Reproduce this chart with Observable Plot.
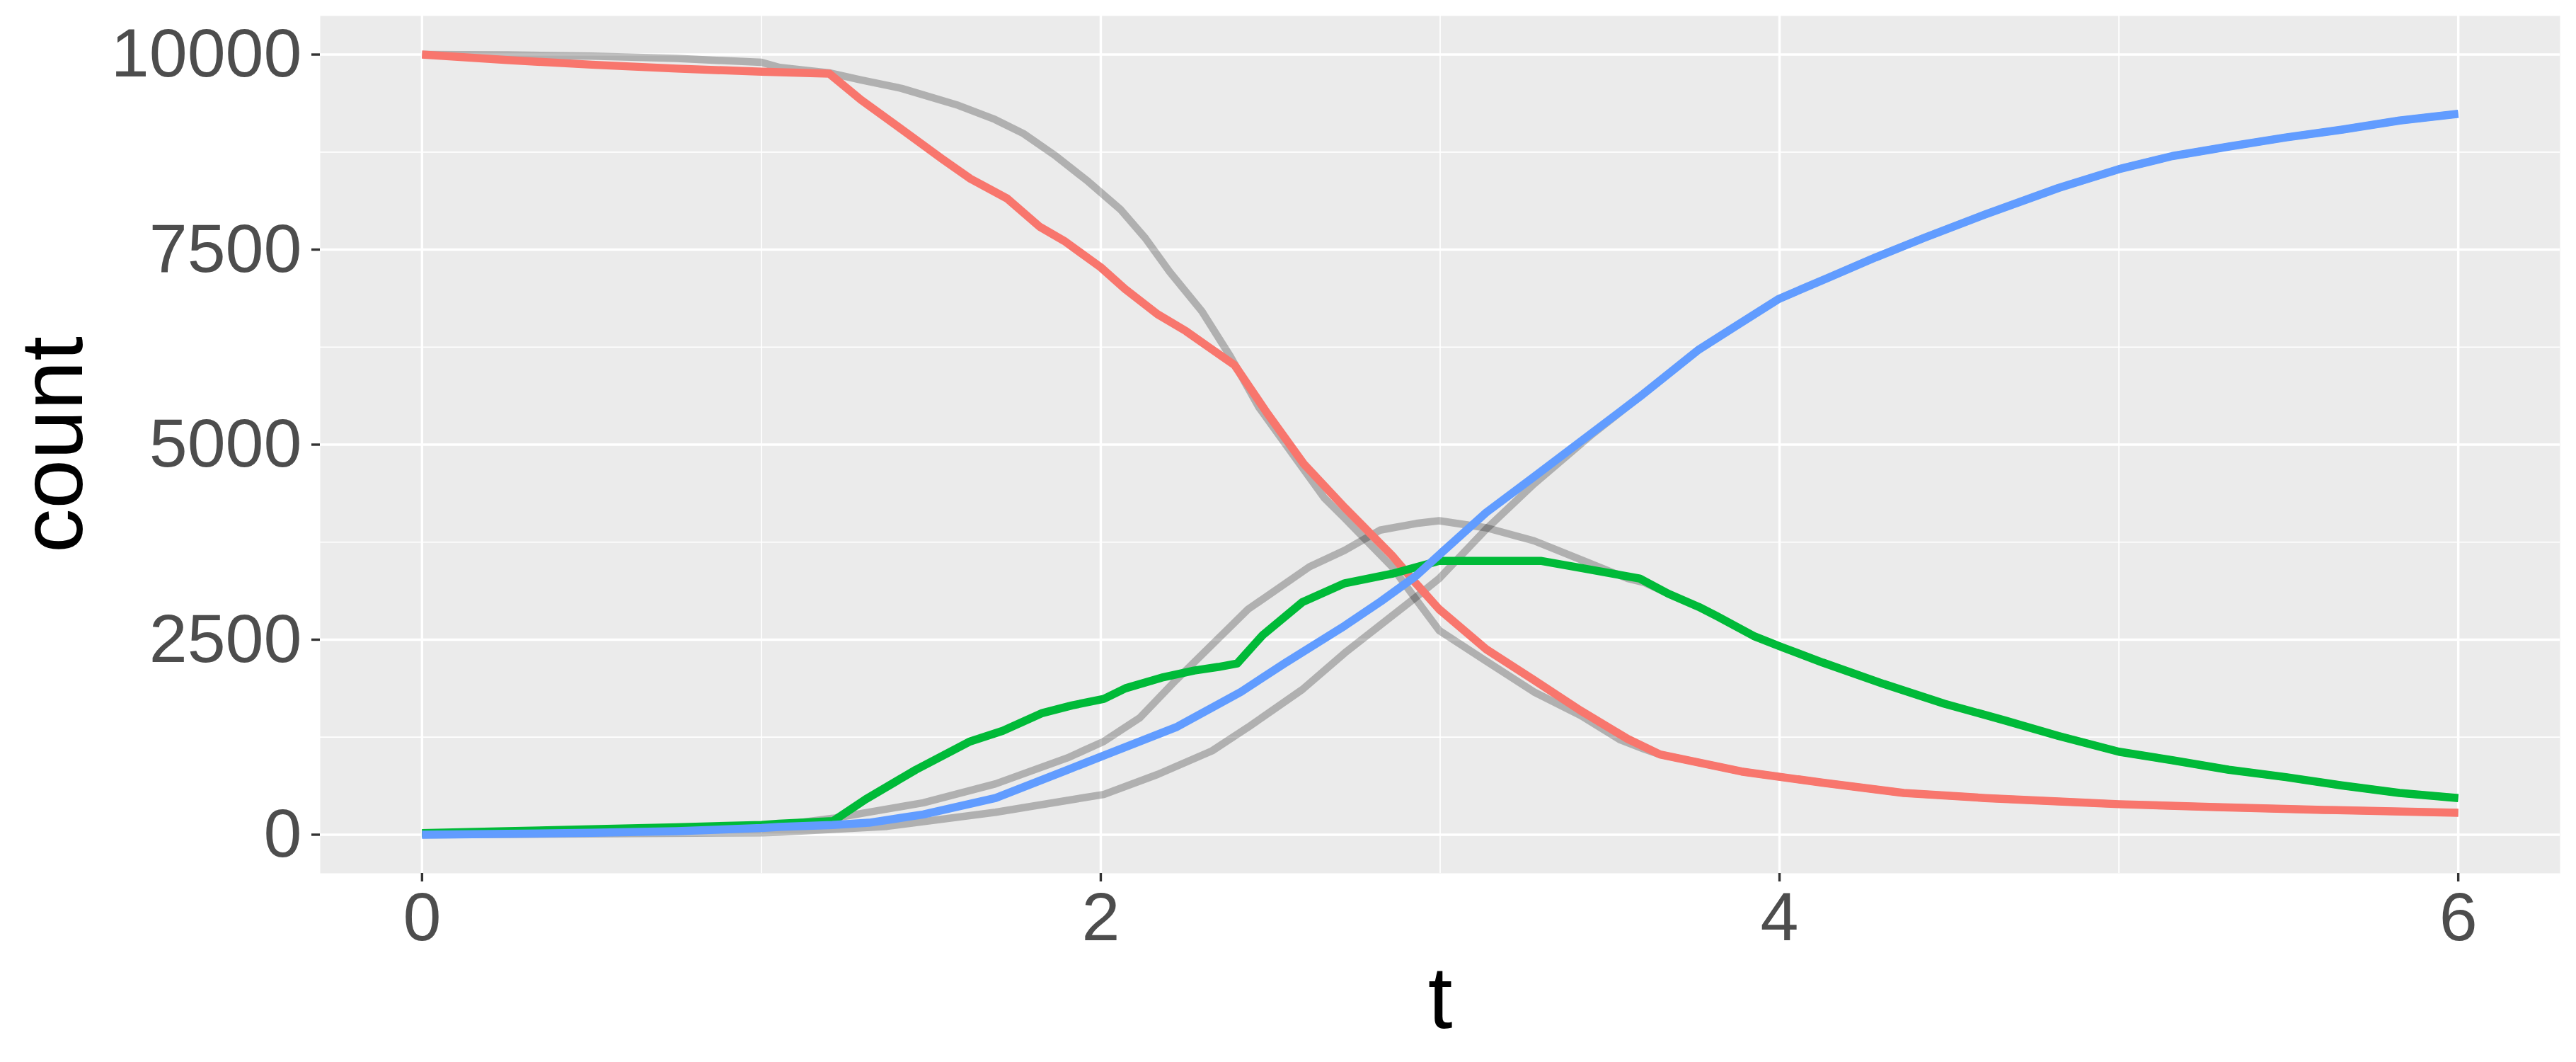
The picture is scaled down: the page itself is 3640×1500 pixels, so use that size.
<!DOCTYPE html>
<html>
<head>
<meta charset="utf-8">
<script src="https://cdn.jsdelivr.net/npm/d3@7"></script>
<script src="https://cdn.jsdelivr.net/npm/@observablehq/plot@0.6"></script>
<style>
  html, body { margin: 0; padding: 0; background: #ffffff; }
  svg { display: block; }
</style>
</head>
<body>
<div id="chart"></div>
<script>
// ---- Data ----
// Stochastic (coloured) series
const obsS_t = [0, 0.25, 0.5, 0.75, 1.0, 1.2, 1.293, 1.401, 1.533, 1.616, 1.724, 1.820, 1.892, 2.0, 2.071, 2.167, 2.251, 2.322, 2.394, 2.490, 2.598, 2.719, 2.858, 2.928, 2.997, 3.136, 3.276, 3.414, 3.553, 3.648, 3.888, 4.127, 4.366, 4.606, 4.822, 5.0, 5.268, 5.604, 6.0];
const obsS   = [10000, 9930, 9870, 9820, 9780, 9755, 9421, 9081, 8661, 8408, 8155, 7793, 7612, 7272, 6997, 6672, 6455, 6238, 6020, 5405, 4754, 4191, 3580, 3224, 2890, 2376, 1983, 1590, 1227, 1028, 810, 666, 535, 470, 427, 391, 355, 318, 282];

const obsI_t = [0, 0.25, 0.5, 0.75, 1.0, 1.051, 1.211, 1.307, 1.455, 1.615, 1.711, 1.828, 1.915, 2.009, 2.073, 2.179, 2.275, 2.346, 2.402, 2.477, 2.594, 2.719, 2.858, 2.997, 3.136, 3.296, 3.414, 3.588, 3.672, 3.762, 3.816, 3.924, 4.008, 4.127, 4.307, 4.486, 4.666, 4.822, 5.0, 5.157, 5.324, 5.492, 5.659, 5.827, 6.0];
const obsI   = [20, 45, 70, 95, 125, 140, 175, 454, 832, 1196, 1332, 1560, 1657, 1741, 1877, 2013, 2104, 2150, 2195, 2558, 2981, 3223, 3344, 3510, 3510, 3510, 3420, 3283, 3090, 2920, 2800, 2547, 2402, 2207, 1932, 1679, 1462, 1266, 1064, 955, 832, 738, 630, 535, 470];

const obsR_t = [0, 0.25, 0.5, 0.75, 1.0, 1.051, 1.209, 1.317, 1.477, 1.690, 1.902, 2.009, 2.222, 2.413, 2.541, 2.719, 2.825, 2.928, 2.997, 3.136, 3.276, 3.450, 3.588, 3.762, 3.866, 3.998, 4.144, 4.283, 4.426, 4.606, 4.822, 5.0, 5.157, 5.324, 5.492, 5.659, 5.827, 6.0];
const obsR   = [0, 10, 25, 45, 85, 100, 125, 153, 259, 470, 832, 1014, 1377, 1831, 2195, 2679, 2990, 3314, 3587, 4131, 4585, 5159, 5613, 6218, 6505, 6868, 7140, 7400, 7650, 7950, 8290, 8531, 8698, 8821, 8937, 9038, 9154, 9240];

// Reference (grey) series
const detS_t = [0, 0.25, 0.5, 0.75, 1.0, 1.054, 1.2, 1.293, 1.413, 1.580, 1.688, 1.772, 1.868, 1.963, 2.059, 2.131, 2.203, 2.298, 2.382, 2.466, 2.574, 2.658, 2.719, 2.858, 2.93, 2.997, 3.136, 3.276, 3.414, 3.529, 3.6, 3.648, 3.888, 4.127, 4.366, 4.606, 4.822, 5.0, 5.268, 5.604, 6.0];
const detS   = [10000, 9995, 9980, 9950, 9900, 9834, 9765, 9675, 9566, 9349, 9168, 8987, 8698, 8372, 8010, 7648, 7214, 6708, 6129, 5478, 4826, 4320, 4055, 3435, 3010, 2618, 2225, 1831, 1529, 1220, 1100, 1028, 810, 666, 535, 470, 427, 391, 355, 318, 282];

const detI_t = [0, 0.5, 1.0, 1.211, 1.477, 1.690, 1.902, 2.009, 2.115, 2.222, 2.328, 2.434, 2.615, 2.719, 2.823, 2.93, 2.997, 3.136, 3.276, 3.414, 3.553, 3.6, 3.672, 3.762, 3.816, 3.924, 4.008, 4.127, 4.307, 4.486, 4.666, 4.822, 5.0, 5.157, 5.324, 5.492, 5.659, 5.827, 6.0];
const detI   = [10, 40, 90, 210, 409, 652, 985, 1196, 1499, 1983, 2437, 2890, 3435, 3646, 3904, 3990, 4025, 3934, 3768, 3526, 3283, 3234, 3090, 2920, 2800, 2547, 2402, 2207, 1932, 1679, 1462, 1266, 1064, 955, 832, 738, 630, 535, 470];

const detR_t = [0, 0.5, 1.0, 1.051, 1.370, 1.690, 1.902, 2.009, 2.168, 2.328, 2.434, 2.594, 2.719, 2.928, 2.997, 3.136, 3.276, 3.450, 3.588, 3.762, 3.866, 3.998, 4.144, 4.283, 4.426, 4.606, 4.822, 5.0, 5.157, 5.324, 5.492, 5.659, 5.827, 6.0];
const detR   = [0, 10, 25, 32, 107, 288, 440, 516, 773, 1075, 1377, 1861, 2330, 3042, 3283, 3919, 4494, 5140, 5613, 6218, 6505, 6868, 7140, 7400, 7650, 7950, 8290, 8531, 8698, 8821, 8937, 9038, 9154, 9240];

// Axis ticks
const xTicks = [0, 2, 4, 6];
const xMinor = [1, 3, 5];
const yTicks = [0, 2500, 5000, 7500, 10000];
const yMinor = [1250, 3750, 6250, 8750];

const seriesColors = {S: "#F8766D", I: "#00BA38", R: "#619CFF"};

// ---- Build tables ----
const toRows = (ts, vs) => ts.map((t, i) => ({t, v: vs[i]}));
const grey = [toRows(detS_t, detS), toRows(detI_t, detI), toRows(detR_t, detR)];
const coloured = [
  {rows: toRows(obsS_t, obsS), color: seriesColors.S},
  {rows: toRows(obsI_t, obsI), color: seriesColors.I},
  {rows: toRows(obsR_t, obsR), color: seriesColors.R}
];

const W = 3640, H = 1500;
const chart = Plot.plot({
  width: W,
  height: H,
  marginLeft: 452,
  marginRight: 23,
  marginTop: 22,
  marginBottom: 267,
  style: {fontFamily: "'Liberation Sans', Arial, sans-serif", background: "#ffffff", overflow: "visible"},
  x: {domain: [-0.3, 6.3], axis: null},
  y: {domain: [-495, 10495], axis: null},
  marks: [
    Plot.frame({fill: "#EBEBEB", stroke: "none"}),
    Plot.gridX(xMinor, {stroke: "#ffffff", strokeOpacity: 1, strokeWidth: 1.7}),
    Plot.gridY(yMinor, {stroke: "#ffffff", strokeOpacity: 1, strokeWidth: 1.7}),
    Plot.gridX(xTicks, {stroke: "#ffffff", strokeOpacity: 1, strokeWidth: 3.4}),
    Plot.gridY(yTicks, {stroke: "#ffffff", strokeOpacity: 1, strokeWidth: 3.4}),
    ...grey.map(rows => Plot.line(rows, {x: "t", y: "v", stroke: "#000000", strokeOpacity: 0.25, strokeWidth: 10.5, strokeLinejoin: "round", strokeLinecap: "butt"})),
    ...coloured.map(s => Plot.line(s.rows, {x: "t", y: "v", stroke: s.color, strokeWidth: 11.5, strokeLinejoin: "round", strokeLinecap: "butt"})),
    Plot.axisX(xTicks, {tickSize: 12, tickPadding: 14, fontSize: 97, fill: "#4D4D4D", stroke: "#333333", strokeWidth: 3.4, label: null, tickFormat: d => String(d)}),
    Plot.axisY(yTicks, {tickSize: 12, tickPadding: 14, fontSize: 97, fill: "#4D4D4D", stroke: "#333333", strokeWidth: 3.4, label: null, tickFormat: d => String(d)}),
    Plot.text(["count"], {text: d => d, frameAnchor: "left", dx: -337, rotate: -90, textAnchor: "middle", lineAnchor: "bottom", fontSize: 125, fill: "#000000"}),
    Plot.text(["t"], {text: d => d, frameAnchor: "bottom", dy: 218, textAnchor: "middle", lineAnchor: "bottom", fontSize: 125, fill: "#000000"})
  ]
});
document.getElementById("chart").appendChild(chart);
</script>
</body>
</html>
